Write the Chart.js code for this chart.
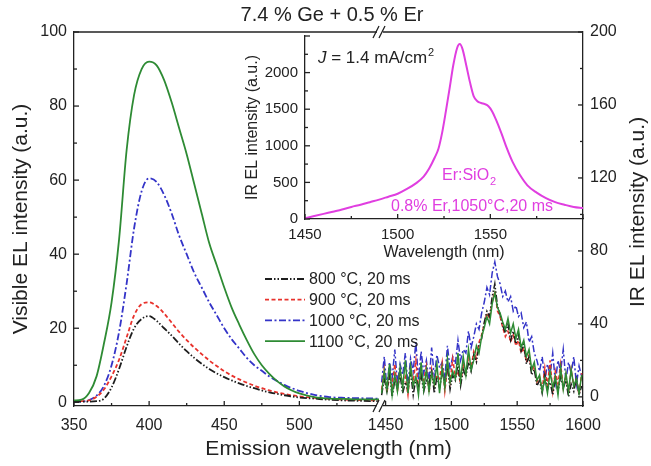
<!DOCTYPE html>
<html>
<head>
<meta charset="utf-8">
<script src="https://cdn.jsdelivr.net/npm/chart.js@4.4.1/dist/chart.umd.min.js"></script>
<style>
  body { margin: 0; background: #fff; }
  #wrap { position: relative; width: 651px; height: 466px; }
  #main { position: absolute; left: 0; top: 0; }
  #inset { position: absolute; left: 230px; top: 20px; }
</style>
</head>
<body>
<div id="wrap">
  <canvas id="main" width="651" height="466"></canvas>
  <canvas id="inset" width="360" height="245"></canvas>
</div>
<script>
// visible EL (left axis)
const visWl = [350,355,360,365,370,375,380,385,390,395,400,405,410,415,420,425,430,435,440,445,450,455,460,465,470,475,480,485,490,495,500,510,520,530,540,553];
const vis800 = [0.2,0.2,0.2,0.3,1,4,9,15,20,22.5,23.3,22,20,18,15.8,13.8,12,10.4,9,7.8,6.8,5.9,5.1,4.4,3.8,3.2,2.7,2.3,1.9,1.6,1.3,1,0.7,0.5,0.4,0.3];
const vis900 = [0.3,0.3,0.5,1.5,3.5,7,11.5,17.5,23.5,26.5,27,26,24,21.5,19,16.8,14.8,13,11.3,9.8,8.4,7.2,6.2,5.3,4.5,3.8,3.2,2.7,2.3,1.9,1.6,1.2,0.9,0.7,0.6,0.5];
const vis1000 = [0.2,0.2,0.6,1.8,4.5,10,19,32,47,57,60.5,59.5,56,51,45,40,35,31,27,23.5,20,17,14.5,12,10,8.5,7,5.8,4.7,3.8,3.1,2,1.4,1.2,1.1,1.0];
const vis1100 = [0.5,0.7,2.5,7,16,27,44,68,83,90,92,91,87,81,74,67,59,51,43,37,31,25.5,21,16.8,13,10,7.7,5.8,4.3,3.2,2.4,1.4,1.0,0.9,0.8,0.8];

// IR EL (right axis)
const irWl = [1447,1449,1451,1453,1455,1457,1459,1461,1463,1465,
  1467,1469,1471,1473,1475,1477,1479,1481,1483,1485,
  1487,1489,1491,1493,1495,1497,1499,1501,1503,1505,
  1507,1509,1511,1513,1515,1517,1519,1521,1523,1525,
  1527,1529,1531,1533,1535,1537,1539,1541,1543,1545,
  1547,1549,1551,1553,1555,1557,1559,1561,1563,1565,
  1567,1569,1571,1573,1575,1577,1579,1581,1583,1585,
  1587,1589,1591,1593,1595,1597,1599];
const ir800 = [1,10,3,13,0,9,5,12,2,8,
  4,14,1,10,6,12,3,9,7,15,
  2,11,5,13,8,17,4,12,9,18,
  6,15,11,19,14,23,19,28,32,41,
  47,44,55,62,50,45,39,35,40,31,
  36,29,34,25,29,18,22,12,15,6,
  9,2,12,4,8,1,10,3,11,5,
  9,0,7,3,10,1,6];
const ir900 = [4,15,2,12,6,18,3,14,7,11,
  1,16,8,20,4,13,9,17,2,15,
  6,12,10,19,3,16,8,21,11,14,
  7,18,13,22,16,25,21,30,34,40,
  46,43,52,58,47,44,38,33,36,30,
  34,28,31,24,27,19,23,14,17,8,
  11,4,16,6,20,3,14,7,18,5,
  12,2,15,6,10,1,13];
const ir1000 = [8,22,5,19,10,26,7,18,12,24,
  6,21,14,30,9,25,13,20,8,27,
  11,23,16,19,10,28,15,22,18,31,
  20,26,24,36,27,33,40,37,46,52,
  60,56,68,74,66,62,55,58,52,55,
  47,50,44,46,38,41,30,33,24,20,
  14,22,9,18,12,24,8,20,14,26,
  9,19,13,22,7,17,11];
const ir1100 = [2,14,4,18,1,12,3,16,5,20,
  2,17,6,11,1,19,4,15,3,13,
  7,18,2,16,5,21,8,14,10,24,
  9,22,12,26,15,20,28,24,33,38,
  44,40,51,57,49,46,41,37,43,35,
  40,32,37,27,31,22,26,15,19,9,
  12,3,10,2,14,5,11,1,16,4,
  13,3,15,6,10,2,12];

// inset: Er:SiO2 reference
const insetWl = [1450,1455,1460,1465,1470,1475,1480,1485,1490,1495,1500,1505,1510,1514,1517,1520,1522,1524,1526,1528,1530,1532,1533.5,1535,1537,1539,1541,1543,1545,1547,1549,1551,1553,1556,1559,1562,1566,1570,1575,1580,1585,1590,1595,1600];
const insetVal = [10,40,70,100,130,165,195,230,265,305,345,410,490,580,690,840,960,1180,1470,1780,2100,2330,2390,2320,2100,1870,1680,1610,1585,1570,1540,1470,1360,1170,960,780,600,460,360,285,230,195,165,150];

// ticks
const visYTicks = [0,20,40,60,80,100];
const visYMinor = [10,30,50,70,90];
const irYTicks = [0,40,80,120,160,200];
const irYMinor = [20,60,100,140,180];
const xVisTicks = [350,400,450,500];
const xVisMinor = [375,425,475,525];
const xIrTicks = [1450,1500,1550,1600];
const xIrMinor = [1475,1525,1575];
const insetXTicks = [1450,1500,1550,1600];
const insetXMinor = [1475,1525,1575];
const insetYTicks = [0,500,1000,1500,2000,2500];
const insetYMinor = [250,750,1250,1750,2250];

const FONT = "'Liberation Sans', Arial, sans-serif";
const INK = '#222';
const MAGENTA = '#e03ee0';
Chart.defaults.font.family = FONT;
Chart.defaults.color = INK;

// broken x axis: visible part 1:1, IR part compressed after the break
const BREAK_U = 553, IR_START = 1445, IR_SCALE = 0.876;
function toAxis(w) { return w < 1000 ? w : BREAK_U + (w - IR_START) * IR_SCALE; }
function fromAxis(u) { return u <= BREAK_U ? u : IR_START + (u - BREAK_U) / IR_SCALE; }

const series = [
  { label: '800 °C, 20 ms', vis: vis800, ir: ir800, color: '#1e1e1e', dash: [7,2,1.5,2,1.5,2], order: 2 },
  { label: '900 °C, 20 ms', vis: vis900, ir: ir900, color: '#e8322c', dash: [4,2.5], order: 3 },
  { label: '1000 °C, 20 ms', vis: vis1000, ir: ir1000, color: '#3434c8', dash: [7,2.5,2,2.5], order: 4 },
  { label: '1100 °C, 20 ms', vis: vis1100, ir: ir1100, color: '#2e8b34', dash: [], order: 1 }
];

const datasets = [];
series.forEach(s => {
  datasets.push({
    label: s.label,
    data: visWl.map((w, i) => ({ x: toAxis(w), y: s.vis[i] })),
    yAxisID: 'y', borderColor: s.color, borderDash: s.dash, borderWidth: 1.8,
    pointRadius: 0, cubicInterpolationMode: 'monotone', order: s.order
  });
  datasets.push({
    label: s.label + ' IR',
    data: irWl.map((w, i) => ({ x: toAxis(w), y: s.ir[i] })),
    yAxisID: 'y2', borderColor: s.color, borderDash: s.dash, borderWidth: 1.5,
    pointRadius: 0, tension: 0, order: s.order
  });
});

function tickPlugin(marks) {
  return {
    id: 'inwardTicks',
    afterDraw(chart) {
      const { ctx, chartArea: a } = chart;
      ctx.save();
      ctx.strokeStyle = INK;
      ctx.lineWidth = 1.3;
      marks.forEach(m => {
        const s = chart.scales[m.id];
        [[m.major, 5], [m.minor, 3]].forEach(([vals, len]) => {
          vals.forEach(v => {
            const p = s.getPixelForValue(v);
            ctx.beginPath();
            if (m.edge === 'left') { ctx.moveTo(a.left, p); ctx.lineTo(a.left + len, p); }
            if (m.edge === 'right') { ctx.moveTo(a.right, p); ctx.lineTo(a.right - len, p); }
            if (m.edge === 'bottom') { ctx.moveTo(p, a.bottom); ctx.lineTo(p, a.bottom - len); }
            ctx.stroke();
          });
        });
      });
      ctx.restore();
    }
  };
}

const mainDecor = {
  id: 'mainDecor',
  afterDraw(chart) {
    const { ctx, chartArea: a } = chart;
    ctx.save();
    // top frame line
    ctx.strokeStyle = INK;
    ctx.lineWidth = 1.3;
    ctx.beginPath(); ctx.moveTo(a.left, a.top); ctx.lineTo(a.right, a.top); ctx.stroke();
    // break marks
    const bx = chart.scales.x.getPixelForValue(BREAK_U) + 1;
    [a.top, a.bottom].forEach(y => {
      ctx.fillStyle = '#fff';
      ctx.fillRect(bx - 3, y - 2, 6, 4);
      ctx.beginPath();
      ctx.moveTo(bx - 7, y + 6); ctx.lineTo(bx - 1, y - 6);
      ctx.moveTo(bx - 1, y + 6); ctx.lineTo(bx + 5, y - 6);
      ctx.stroke();
    });
    // title
    ctx.fillStyle = INK;
    ctx.font = '20px ' + FONT;
    ctx.textAlign = 'center'; ctx.textBaseline = 'middle';
    ctx.fillText('7.4 % Ge + 0.5 % Er', 332, 15);
    // right axis title, reading upwards
    ctx.save();
    ctx.translate(638, 212);
    ctx.rotate(-Math.PI / 2);
    ctx.font = '21px ' + FONT;
    ctx.fillText('IR EL intensity (a.u.)', 0, 0);
    ctx.restore();
    // legend
    ctx.font = '16px ' + FONT;
    ctx.textAlign = 'left';
    series.forEach((s, i) => {
      const y = 279 + i * 20.7;
      ctx.strokeStyle = s.color;
      ctx.lineWidth = 1.8;
      ctx.setLineDash(s.dash);
      ctx.beginPath(); ctx.moveTo(265, y); ctx.lineTo(305, y); ctx.stroke();
      ctx.setLineDash([]);
      ctx.fillStyle = INK;
      ctx.fillText(s.label, 309, y + 1);
    });
    ctx.restore();
  }
};

new Chart(document.getElementById('main'), {
  type: 'line',
  data: { datasets: datasets },
  options: {
    responsive: false, animation: false, devicePixelRatio: 1,
    layout: { padding: { top: 32, left: 0, right: 0, bottom: 0 } },
    plugins: { legend: { display: false }, tooltip: { enabled: false } },
    scales: {
      x: {
        type: 'linear', min: 350, max: toAxis(1600),
        grid: { display: false, drawTicks: false },
        border: { color: INK, width: 1.3 },
        afterBuildTicks: s => { s.ticks = xVisTicks.concat(xIrTicks.map(toAxis)).map(v => ({ value: v })); },
        ticks: { font: { size: 16 }, padding: 10, autoSkip: false, maxRotation: 0, callback: v => Math.round(fromAxis(v)) },
        title: { display: true, text: 'Emission wavelength (nm)', font: { size: 21 }, padding: { top: 0, bottom: 4 } },
        afterFit: s => { s.height = 60; }
      },
      y: {
        position: 'left', min: -1, max: 100,
        grid: { display: false, drawTicks: false },
        border: { color: INK, width: 1.3 },
        afterBuildTicks: s => { s.ticks = visYTicks.map(v => ({ value: v })); },
        ticks: { font: { size: 16 }, padding: 7 },
        title: { display: true, text: 'Visible EL intensity (a.u.)', font: { size: 21 }, padding: { top: 9, bottom: 0 } },
        afterFit: s => { s.width = 74; }
      },
      y2: {
        position: 'right', min: -5, max: 200,
        grid: { display: false, drawTicks: false },
        border: { color: INK, width: 1.3 },
        afterBuildTicks: s => { s.ticks = irYTicks.map(v => ({ value: v })); },
        ticks: { font: { size: 16 }, padding: 7 },
        afterFit: s => { s.width = 68; }
      }
    }
  },
  plugins: [
    tickPlugin([
      { id: 'y', edge: 'left', major: visYTicks, minor: visYMinor },
      { id: 'y2', edge: 'right', major: irYTicks, minor: irYMinor },
      { id: 'x', edge: 'bottom', major: xVisTicks.concat(xIrTicks.map(toAxis)), minor: xVisMinor.concat(xIrMinor.map(toAxis)) }
    ]),
    mainDecor
  ]
});

const insetDecor = {
  id: 'insetDecor',
  afterDraw(chart) {
    const ctx = chart.ctx;
    ctx.save();
    ctx.textBaseline = 'alphabetic';
    ctx.textAlign = 'left';
    ctx.fillStyle = INK;
    let x = 88;
    ctx.font = 'italic 17px ' + FONT;
    ctx.fillText('J', x, 43); x += ctx.measureText('J').width;
    ctx.font = '17px ' + FONT;
    ctx.fillText(' = 1.4 mA/cm', x, 43); x += ctx.measureText(' = 1.4 mA/cm').width;
    ctx.font = '11px ' + FONT;
    ctx.fillText('2', x + 1, 36);

    ctx.fillStyle = MAGENTA;
    x = 212;
    ctx.font = '16px ' + FONT;
    ctx.fillText('Er:SiO', x, 160); x += ctx.measureText('Er:SiO').width;
    ctx.font = '11px ' + FONT;
    ctx.fillText('2', x + 1, 165);
    ctx.font = '16px ' + FONT;
    ctx.fillText('0.8% Er,1050°C,20 ms', 161, 191);
    ctx.restore();
  }
};

new Chart(document.getElementById('inset'), {
  type: 'line',
  data: {
    datasets: [{
      label: 'Er:SiO2',
      data: insetWl.map((w, i) => ({ x: w, y: insetVal[i] })),
      borderColor: MAGENTA, borderWidth: 2, pointRadius: 0, cubicInterpolationMode: 'monotone'
    }]
  },
  options: {
    responsive: false, animation: false, devicePixelRatio: 1,
    layout: { padding: { top: 12, right: 7, left: 0, bottom: 0 } },
    plugins: { legend: { display: false }, tooltip: { enabled: false } },
    scales: {
      x: {
        type: 'linear', min: 1450, max: 1600,
        grid: { display: false, drawTicks: false },
        border: { color: INK, width: 1.3 },
        afterBuildTicks: s => { s.ticks = insetXTicks.map(v => ({ value: v })); },
        ticks: { font: { size: 15 }, padding: 7, autoSkip: false, maxRotation: 0, callback: v => v === 1600 ? '' : v },
        title: { display: true, text: 'Wavelength (nm)', font: { size: 16 }, padding: { top: 0, bottom: 3 } },
        afterFit: s => { s.height = 46; }
      },
      y: {
        min: 0, max: 2500,
        grid: { display: false, drawTicks: false },
        border: { color: INK, width: 1.3 },
        afterBuildTicks: s => { s.ticks = insetYTicks.map(v => ({ value: v })); },
        ticks: { font: { size: 15 }, padding: 7, callback: v => v === 2500 ? '' : v },
        title: { display: true, text: 'IR EL intensity (a.u.)', font: { size: 16 }, padding: { top: 13, bottom: 0 } },
        afterFit: s => { s.width = 75; }
      }
    }
  },
  plugins: [
    tickPlugin([
      { id: 'y', edge: 'left', major: insetYTicks, minor: insetYMinor },
      { id: 'x', edge: 'bottom', major: insetXTicks, minor: insetXMinor }
    ]),
    insetDecor
  ]
});
</script>
</body>
</html>
